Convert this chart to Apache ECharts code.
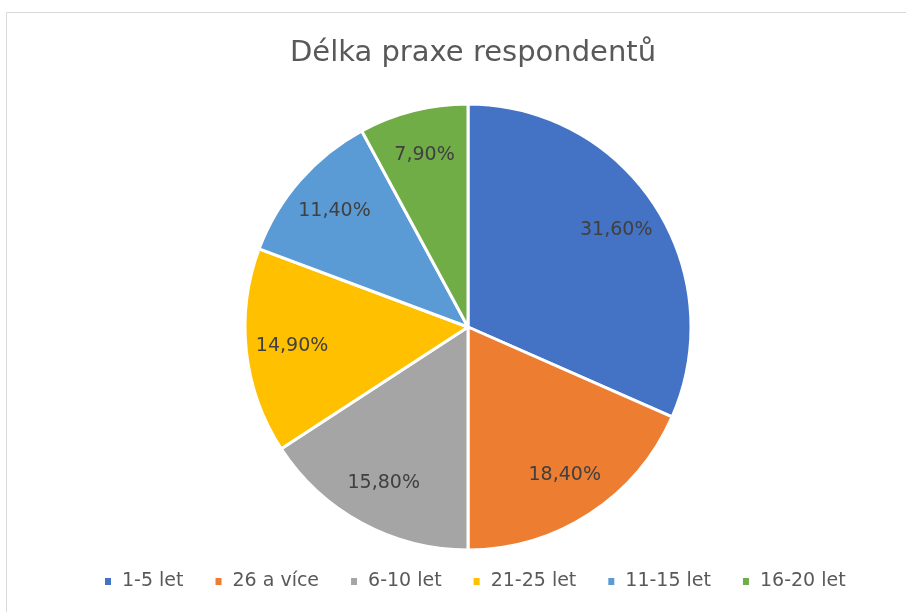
<!DOCTYPE html>
<html><head><meta charset="utf-8">
<script src="https://cdn.jsdelivr.net/npm/echarts@6/dist/echarts.min.js"></script>
<style>html,body{margin:0;padding:0;background:#fff}#c{width:906px;height:612px}</style>
</head><body><div id="c"></div>
<script>
const categories = ['1-5 let', '26 a více', '6-10 let', '21-25 let', '11-15 let', '16-20 let'];
const values = [31.6, 18.4, 15.8, 14.9, 11.4, 7.9];
const colors = ['#4472C4', '#ED7D31', '#A5A5A5', '#FFC000', '#5B9BD5', '#70AD47'];
const titleText = 'Délka praxe respondentů';

const data = categories.map((n, i) => ({ name: n, value: values[i], itemStyle: { color: colors[i] } }));
const fmt = p => p.value.toFixed(2).replace('.', ',') + '%';
const font = '"DejaVu Sans", sans-serif';

const chart = echarts.init(document.getElementById('c'));
chart.setOption({
  animation: false,
  graphic: [{ type: 'rect', shape: { x: 6.5, y: 12.5, width: 910, height: 610 }, style: { fill: 'none', stroke: '#d9d9d9', lineWidth: 1 }, silent: true }],
  title: { text: titleText, left: 468, textAlign: 'center', top: 34, textStyle: { fontFamily: font, fontSize: 29, fontWeight: 'normal', color: '#595959' } },
  legend: {
    top: 567, left: 100, icon: 'rect', itemWidth: 6, itemHeight: 7, itemGap: 32,
    itemStyle: { borderWidth: 0 },
    textStyle: { fontFamily: font, fontSize: 19, color: '#595959', padding: [0, 0, 0, 6] },
    data: categories
  },
  series: [
    {
      type: 'pie', center: [468, 327], radius: [0, 223], startAngle: 90, clockwise: true,
      data: data, label: { show: false }, labelLine: { show: false },
      itemStyle: { borderColor: '#fff', borderWidth: 3 }, emphasis: { disabled: true }
    },
    {
      type: 'pie', center: [468, 327], radius: [125, 223], startAngle: 90, clockwise: true,
      silent: true, legendHoverLink: false,
      data: categories.map((n, i) => ({ name: n, value: values[i], itemStyle: { color: 'rgba(0,0,0,0)' } })),
      label: { show: true, position: 'inside', formatter: fmt, fontFamily: font, fontSize: 19, color: '#404040' },
      labelLine: { show: false }, itemStyle: { borderWidth: 0 }, emphasis: { disabled: true }
    }
  ]
});
</script></body></html>
